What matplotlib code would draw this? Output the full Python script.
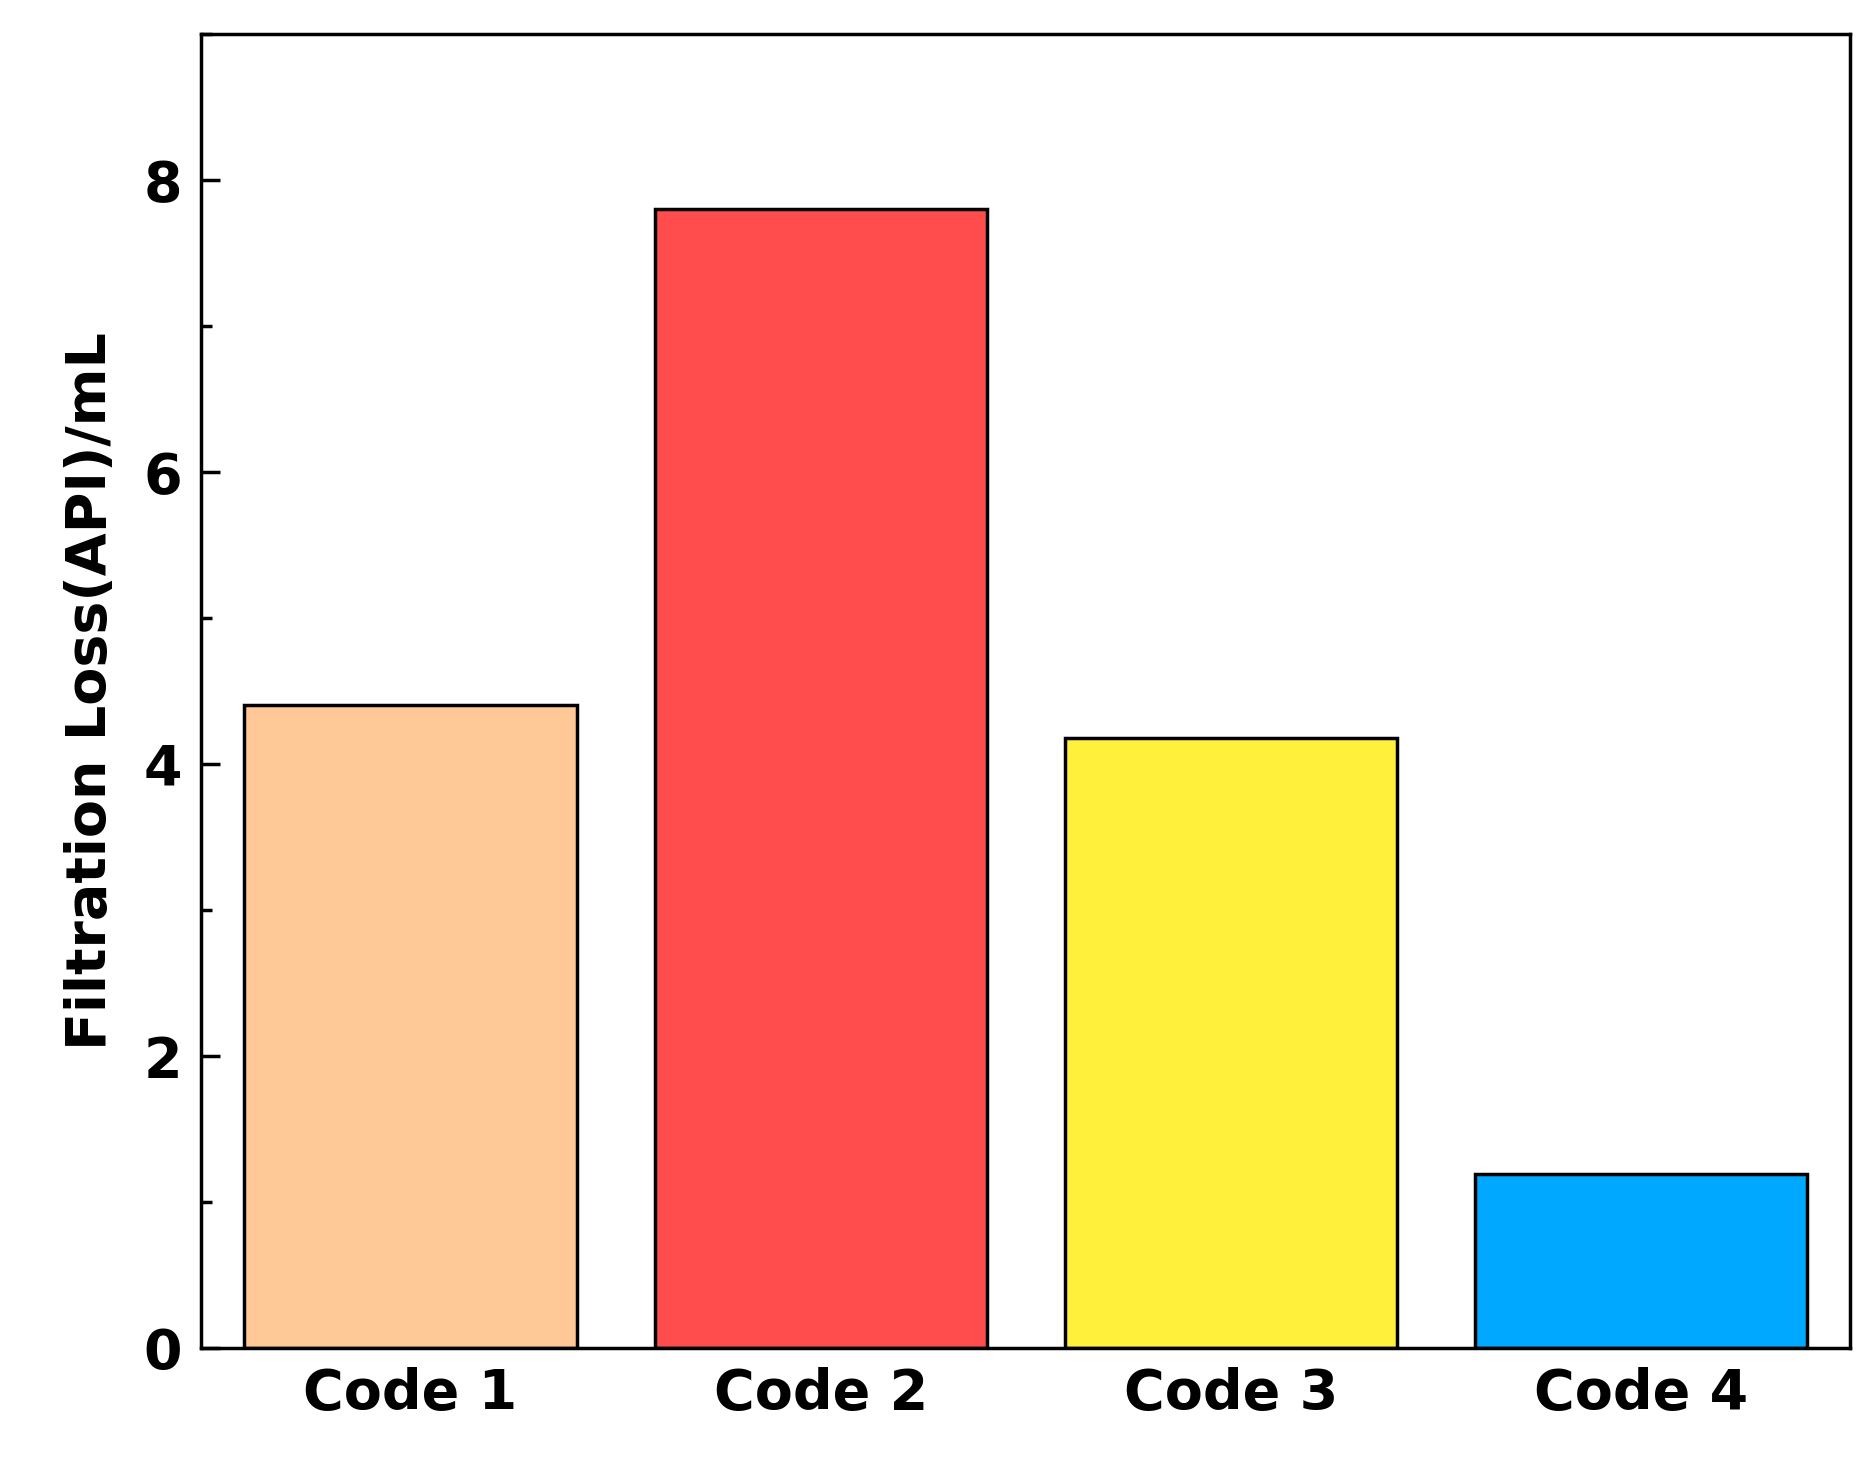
import matplotlib
matplotlib.use("Agg")
import matplotlib.pyplot as plt
from matplotlib.ticker import MultipleLocator

categories = ["Code 1", "Code 2", "Code 3", "Code 4"]
values = [4.40, 7.80, 4.18, 1.19]
colors = ["#FFC896", "#FF4D4D", "#FFF03C", "#00A8FF"]

fig = plt.figure(figsize=(18.65, 14.62), dpi=100)
ax = fig.add_axes([0.108, 0.078, 0.884, 0.899])

ax.bar(range(len(values)), values, width=0.81, color=colors,
       edgecolor="black", linewidth=2.5)

ax.set_xlim(-0.51, 3.51)
ax.set_ylim(0, 9)
ax.yaxis.set_major_locator(MultipleLocator(2))
ax.yaxis.set_minor_locator(MultipleLocator(1))
ax.set_xticks(range(len(values)))
ax.set_xticklabels(categories, fontsize=40, fontweight="bold")
ax.tick_params(axis="x", length=0, pad=14)
ax.tick_params(axis="y", which="major", direction="in", length=14, width=2.5,
               labelsize=40, pad=14)
ax.tick_params(axis="y", which="minor", direction="in", length=8, width=2.5)
for lab in ax.get_yticklabels():
    lab.set_fontweight("bold")

for s in ax.spines.values():
    s.set_linewidth(2.5)

ax.set_ylabel("Filtration Loss(API)/mL", fontsize=40, fontweight="bold", labelpad=18)

fig.savefig("out.png")
